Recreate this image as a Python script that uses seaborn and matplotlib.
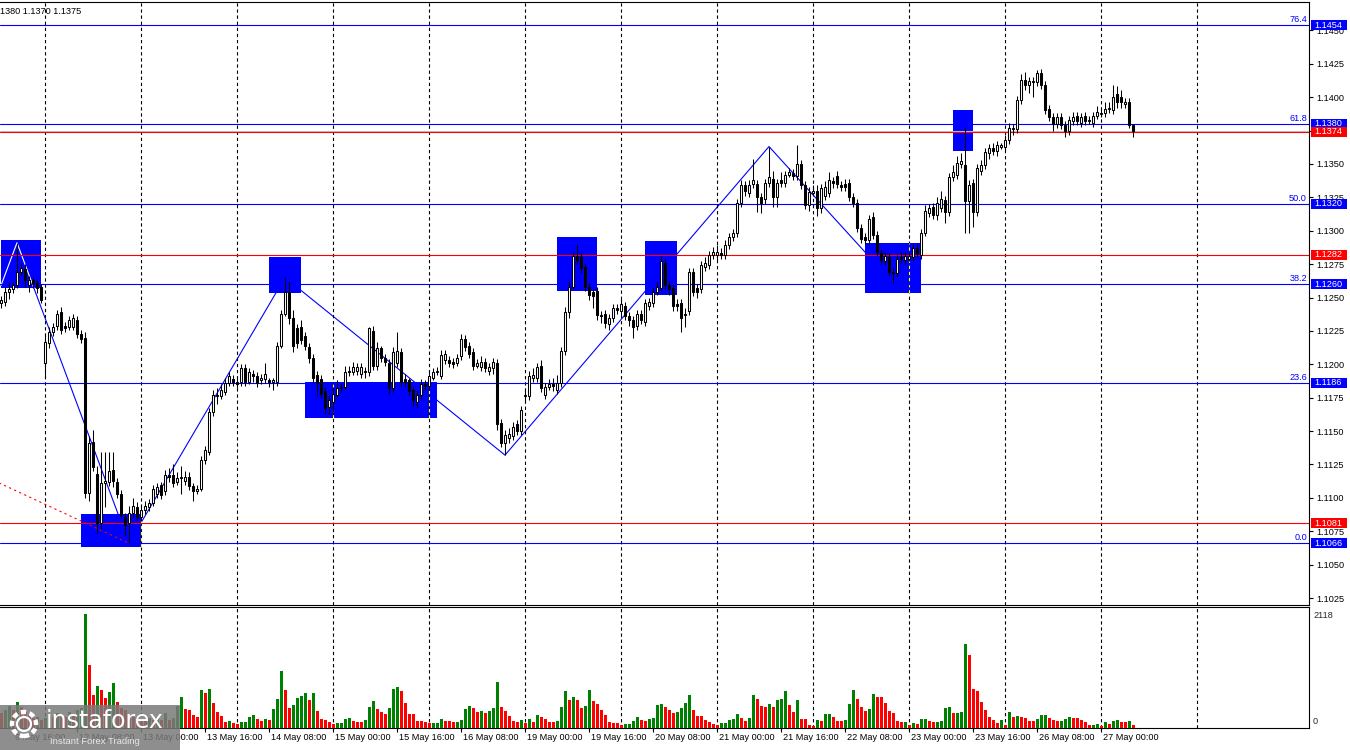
import numpy as np
import pandas as pd
import matplotlib
matplotlib.use("Agg")
import matplotlib.pyplot as plt
import seaborn as sns
from matplotlib.patches import Rectangle, Circle
from matplotlib.transforms import blended_transform_factory as blend, IdentityTransform

sns.set_theme(style="white")
plt.rcParams['font.family'] = ['Liberation Sans', 'DejaVu Sans']
plt.rcParams['axes.linewidth'] = 0.8

# ---------------- data (EURUSD H1, 9 May 13:00 .. 27 May 08:00) ----------------
open_ = [
    1.1246, 1.1247, 1.1254, 1.1256, 1.1259, 1.1269, 1.1271, 1.1259, 1.1263, 1.1261, 1.1258, 1.1201,
    1.1216, 1.1224, 1.1229, 1.1239, 1.1229, 1.1228, 1.1228, 1.1233, 1.1223, 1.1220, 1.1104, 1.1142,
    1.1118, 1.1081, 1.1111, 1.1112, 1.1121, 1.1112, 1.1103, 1.1086, 1.1081, 1.1089, 1.1093, 1.1086,
    1.1091, 1.1093, 1.1096, 1.1103, 1.1110, 1.1105, 1.1117, 1.1117, 1.1112, 1.1115, 1.1113, 1.1116,
    1.1109, 1.1105, 1.1107, 1.1128, 1.1134, 1.1164, 1.1176, 1.1176, 1.1179, 1.1186, 1.1189, 1.1187,
    1.1187, 1.1197, 1.1187, 1.1193, 1.1191, 1.1188, 1.1189, 1.1188, 1.1187, 1.1187, 1.1214, 1.1238,
    1.1254, 1.1235, 1.1227, 1.1228, 1.1221, 1.1213, 1.1205, 1.1192, 1.1189, 1.1180, 1.1168, 1.1172,
    1.1177, 1.1182, 1.1183, 1.1194, 1.1194, 1.1195, 1.1193, 1.1195, 1.1194, 1.1225, 1.1199, 1.1212,
    1.1205, 1.1201, 1.1182, 1.1201, 1.1209, 1.1189, 1.1188, 1.1181, 1.1172, 1.1177, 1.1185, 1.1184,
    1.1190, 1.1194, 1.1191, 1.1203, 1.1203, 1.1202, 1.1201, 1.1206, 1.1219, 1.1214, 1.1209, 1.1199,
    1.1198, 1.1202, 1.1195, 1.1197, 1.1201, 1.1156, 1.1141, 1.1145, 1.1146, 1.1155, 1.1150, 1.1176,
    1.1176, 1.1190, 1.1190, 1.1199, 1.1177, 1.1183, 1.1185, 1.1181, 1.1186, 1.1210, 1.1239, 1.1258,
    1.1281, 1.1280, 1.1273, 1.1258, 1.1254, 1.1255, 1.1237, 1.1238, 1.1230, 1.1235, 1.1242, 1.1240,
    1.1244, 1.1236, 1.1233, 1.1229, 1.1238, 1.1232, 1.1244, 1.1246, 1.1254, 1.1257, 1.1276, 1.1259,
    1.1257, 1.1245, 1.1246, 1.1237, 1.1240, 1.1269, 1.1257, 1.1256, 1.1273, 1.1274, 1.1282, 1.1282,
    1.1283, 1.1282, 1.1289, 1.1295, 1.1298, 1.1321, 1.1334, 1.1328, 1.1335, 1.1335, 1.1325, 1.1324,
    1.1336, 1.1339, 1.1325, 1.1338, 1.1336, 1.1342, 1.1343, 1.1341, 1.1350, 1.1334, 1.1319, 1.1328,
    1.1330, 1.1317, 1.1326, 1.1328, 1.1337, 1.1341, 1.1334, 1.1335, 1.1336, 1.1325, 1.1321, 1.1302,
    1.1295, 1.1293, 1.1310, 1.1297, 1.1283, 1.1277, 1.1280, 1.1269, 1.1268, 1.1280, 1.1278, 1.1279,
    1.1280, 1.1287, 1.1282, 1.1298, 1.1313, 1.1318, 1.1312, 1.1317, 1.1323, 1.1314, 1.1340, 1.1342,
    1.1350, 1.1349, 1.1322, 1.1336, 1.1314, 1.1345, 1.1349, 1.1358, 1.1362, 1.1360, 1.1363, 1.1363,
    1.1368, 1.1376, 1.1376, 1.1398, 1.1413, 1.1409, 1.1411, 1.1411, 1.1418, 1.1409, 1.1391, 1.1385,
    1.1380, 1.1385, 1.1379, 1.1375, 1.1382, 1.1386, 1.1381, 1.1386, 1.1382, 1.1381, 1.1386, 1.1387,
    1.1388, 1.1391, 1.1390, 1.1402, 1.1400, 1.1395, 1.1396, 1.1379,
]
high = [
    1.1251, 1.1258, 1.1261, 1.1262, 1.1291, 1.1276, 1.1275, 1.1266, 1.1265, 1.1263, 1.1260, 1.1223,
    1.1228, 1.1231, 1.1241, 1.1243, 1.1232, 1.1236, 1.1238, 1.1236, 1.1226, 1.1224, 1.1146, 1.1151,
    1.1124, 1.1134, 1.1134, 1.1134, 1.1134, 1.1115, 1.1106, 1.1089, 1.1094, 1.1100, 1.1097, 1.1095,
    1.1098, 1.1099, 1.1110, 1.1111, 1.1112, 1.1121, 1.1122, 1.1125, 1.1119, 1.1124, 1.1120, 1.1119,
    1.1111, 1.1110, 1.1131, 1.1139, 1.1167, 1.1181, 1.1182, 1.1185, 1.1190, 1.1194, 1.1192, 1.1190,
    1.1200, 1.1200, 1.1197, 1.1196, 1.1194, 1.1193, 1.1201, 1.1190, 1.1190, 1.1217, 1.1241, 1.1265,
    1.1262, 1.1241, 1.1230, 1.1233, 1.1224, 1.1216, 1.1208, 1.1195, 1.1192, 1.1183, 1.1177, 1.1183,
    1.1188, 1.1186, 1.1199, 1.1199, 1.1202, 1.1201, 1.1201, 1.1198, 1.1228, 1.1229, 1.1217, 1.1214,
    1.1208, 1.1204, 1.1213, 1.1224, 1.1212, 1.1193, 1.1190, 1.1184, 1.1180, 1.1189, 1.1188, 1.1194,
    1.1197, 1.1198, 1.1211, 1.1211, 1.1206, 1.1205, 1.1208, 1.1223, 1.1222, 1.1217, 1.1212, 1.1204,
    1.1206, 1.1205, 1.1201, 1.1205, 1.1204, 1.1159, 1.1151, 1.1152, 1.1157, 1.1158, 1.1169, 1.1181,
    1.1195, 1.1197, 1.1201, 1.1203, 1.1186, 1.1189, 1.1190, 1.1192, 1.1213, 1.1243, 1.1262, 1.1285,
    1.1289, 1.1283, 1.1276, 1.1261, 1.1256, 1.1258, 1.1240, 1.1241, 1.1238, 1.1245, 1.1245, 1.1249,
    1.1247, 1.1239, 1.1236, 1.1241, 1.1241, 1.1249, 1.1250, 1.1258, 1.1262, 1.1281, 1.1279, 1.1262,
    1.1260, 1.1249, 1.1249, 1.1242, 1.1272, 1.1272, 1.1260, 1.1277, 1.1280, 1.1285, 1.1288, 1.1289,
    1.1287, 1.1293, 1.1298, 1.1301, 1.1324, 1.1338, 1.1337, 1.1338, 1.1354, 1.1338, 1.1328, 1.1339,
    1.1363, 1.1345, 1.1339, 1.1344, 1.1345, 1.1347, 1.1346, 1.1364, 1.1353, 1.1337, 1.1333, 1.1334,
    1.1334, 1.1335, 1.1337, 1.1344, 1.1340, 1.1345, 1.1337, 1.1339, 1.1339, 1.1328, 1.1324, 1.1305,
    1.1298, 1.1312, 1.1314, 1.1300, 1.1286, 1.1284, 1.1283, 1.1272, 1.1282, 1.1284, 1.1284, 1.1284,
    1.1290, 1.1290, 1.1301, 1.1319, 1.1320, 1.1321, 1.1325, 1.1330, 1.1326, 1.1343, 1.1349, 1.1356,
    1.1358, 1.1377, 1.1338, 1.1339, 1.1350, 1.1353, 1.1362, 1.1365, 1.1366, 1.1367, 1.1366, 1.1372,
    1.1381, 1.1380, 1.1401, 1.1417, 1.1419, 1.1415, 1.1415, 1.1420, 1.1421, 1.1412, 1.1394, 1.1388,
    1.1388, 1.1388, 1.1382, 1.1386, 1.1389, 1.1389, 1.1388, 1.1389, 1.1386, 1.1389, 1.1393, 1.1392,
    1.1396, 1.1396, 1.1409, 1.1408, 1.1405, 1.1399, 1.1399, 1.1380,
]
low = [
    1.1242, 1.1244, 1.1249, 1.1253, 1.1257, 1.1266, 1.1258, 1.1254, 1.1257, 1.1253, 1.1246, 1.1190,
    1.1212, 1.1221, 1.1226, 1.1223, 1.1224, 1.1226, 1.1226, 1.1220, 1.1216, 1.1100, 1.1098, 1.1120,
    1.1073, 1.1077, 1.1093, 1.1109, 1.1108, 1.1100, 1.1085, 1.1072, 1.1066, 1.1086, 1.1083, 1.1083,
    1.1088, 1.1090, 1.1094, 1.1100, 1.1099, 1.1102, 1.1112, 1.1108, 1.1110, 1.1103, 1.1110, 1.1106,
    1.1098, 1.1103, 1.1105, 1.1125, 1.1132, 1.1161, 1.1170, 1.1174, 1.1177, 1.1184, 1.1184, 1.1182,
    1.1184, 1.1184, 1.1185, 1.1187, 1.1183, 1.1185, 1.1186, 1.1183, 1.1181, 1.1184, 1.1212, 1.1236,
    1.1230, 1.1209, 1.1212, 1.1215, 1.1211, 1.1201, 1.1187, 1.1176, 1.1175, 1.1163, 1.1163, 1.1164,
    1.1175, 1.1179, 1.1181, 1.1191, 1.1192, 1.1192, 1.1190, 1.1190, 1.1191, 1.1196, 1.1196, 1.1202,
    1.1199, 1.1178, 1.1179, 1.1198, 1.1184, 1.1183, 1.1176, 1.1169, 1.1168, 1.1174, 1.1181, 1.1181,
    1.1188, 1.1192, 1.1189, 1.1200, 1.1198, 1.1197, 1.1199, 1.1203, 1.1210, 1.1205, 1.1196, 1.1197,
    1.1195, 1.1194, 1.1192, 1.1193, 1.1151, 1.1138, 1.1132, 1.1141, 1.1143, 1.1147, 1.1147, 1.1172,
    1.1173, 1.1187, 1.1187, 1.1179, 1.1174, 1.1181, 1.1180, 1.1178, 1.1183, 1.1207, 1.1235, 1.1256,
    1.1275, 1.1268, 1.1255, 1.1248, 1.1242, 1.1233, 1.1231, 1.1227, 1.1226, 1.1232, 1.1238, 1.1237,
    1.1233, 1.1229, 1.1220, 1.1226, 1.1230, 1.1229, 1.1241, 1.1243, 1.1252, 1.1255, 1.1256, 1.1252,
    1.1240, 1.1240, 1.1224, 1.1228, 1.1237, 1.1251, 1.1250, 1.1253, 1.1270, 1.1271, 1.1279, 1.1278,
    1.1279, 1.1279, 1.1286, 1.1292, 1.1295, 1.1318, 1.1326, 1.1325, 1.1332, 1.1314, 1.1313, 1.1320,
    1.1333, 1.1318, 1.1318, 1.1333, 1.1333, 1.1340, 1.1338, 1.1338, 1.1331, 1.1316, 1.1315, 1.1326,
    1.1311, 1.1313, 1.1323, 1.1325, 1.1332, 1.1332, 1.1330, 1.1330, 1.1322, 1.1318, 1.1299, 1.1291,
    1.1290, 1.1290, 1.1294, 1.1281, 1.1275, 1.1274, 1.1266, 1.1261, 1.1265, 1.1276, 1.1275, 1.1277,
    1.1277, 1.1280, 1.1279, 1.1296, 1.1310, 1.1309, 1.1308, 1.1314, 1.1306, 1.1311, 1.1337, 1.1339,
    1.1347, 1.1298, 1.1298, 1.1303, 1.1311, 1.1342, 1.1346, 1.1354, 1.1357, 1.1356, 1.1361, 1.1360,
    1.1365, 1.1372, 1.1373, 1.1395, 1.1405, 1.1403, 1.1400, 1.1408, 1.1406, 1.1387, 1.1382, 1.1375,
    1.1377, 1.1376, 1.1370, 1.1372, 1.1379, 1.1379, 1.1378, 1.1379, 1.1380, 1.1378, 1.1384, 1.1385,
    1.1385, 1.1388, 1.1387, 1.1392, 1.1392, 1.1392, 1.1377, 1.1370,
]
close = [
    1.1248, 1.1254, 1.1256, 1.1259, 1.1269, 1.1272, 1.1263, 1.1263, 1.1261, 1.1257, 1.1248, 1.1217,
    1.1224, 1.1228, 1.1238, 1.1226, 1.1227, 1.1233, 1.1235, 1.1223, 1.1219, 1.1104, 1.1141, 1.1123,
    1.1081, 1.1111, 1.1113, 1.1120, 1.1113, 1.1103, 1.1087, 1.1080, 1.1089, 1.1094, 1.1086, 1.1091,
    1.1094, 1.1096, 1.1107, 1.1108, 1.1102, 1.1117, 1.1116, 1.1111, 1.1115, 1.1116, 1.1116, 1.1109,
    1.1105, 1.1107, 1.1128, 1.1136, 1.1164, 1.1177, 1.1177, 1.1181, 1.1186, 1.1191, 1.1187, 1.1185,
    1.1197, 1.1187, 1.1194, 1.1191, 1.1186, 1.1190, 1.1193, 1.1187, 1.1188, 1.1214, 1.1238, 1.1254,
    1.1235, 1.1214, 1.1216, 1.1218, 1.1214, 1.1205, 1.1190, 1.1186, 1.1178, 1.1167, 1.1173, 1.1178,
    1.1182, 1.1183, 1.1194, 1.1195, 1.1198, 1.1198, 1.1198, 1.1194, 1.1227, 1.1199, 1.1212, 1.1205,
    1.1202, 1.1182, 1.1209, 1.1210, 1.1187, 1.1187, 1.1180, 1.1173, 1.1177, 1.1185, 1.1184, 1.1191,
    1.1194, 1.1195, 1.1207, 1.1208, 1.1201, 1.1200, 1.1205, 1.1219, 1.1213, 1.1208, 1.1199, 1.1201,
    1.1202, 1.1197, 1.1198, 1.1202, 1.1155, 1.1141, 1.1147, 1.1148, 1.1153, 1.1150, 1.1166, 1.1177,
    1.1191, 1.1192, 1.1198, 1.1182, 1.1183, 1.1185, 1.1184, 1.1186, 1.1210, 1.1239, 1.1258, 1.1281,
    1.1278, 1.1272, 1.1258, 1.1252, 1.1251, 1.1237, 1.1236, 1.1231, 1.1235, 1.1242, 1.1241, 1.1245,
    1.1236, 1.1233, 1.1228, 1.1238, 1.1233, 1.1246, 1.1247, 1.1254, 1.1258, 1.1277, 1.1259, 1.1256,
    1.1244, 1.1244, 1.1235, 1.1238, 1.1269, 1.1254, 1.1254, 1.1274, 1.1276, 1.1282, 1.1284, 1.1284,
    1.1282, 1.1289, 1.1295, 1.1298, 1.1321, 1.1334, 1.1330, 1.1334, 1.1338, 1.1325, 1.1321, 1.1336,
    1.1340, 1.1325, 1.1336, 1.1336, 1.1342, 1.1344, 1.1341, 1.1350, 1.1334, 1.1319, 1.1329, 1.1330,
    1.1317, 1.1332, 1.1333, 1.1338, 1.1336, 1.1335, 1.1333, 1.1333, 1.1325, 1.1321, 1.1302, 1.1294,
    1.1293, 1.1309, 1.1297, 1.1284, 1.1278, 1.1281, 1.1269, 1.1268, 1.1279, 1.1279, 1.1281, 1.1281,
    1.1287, 1.1283, 1.1298, 1.1315, 1.1317, 1.1312, 1.1321, 1.1324, 1.1314, 1.1340, 1.1344, 1.1351,
    1.1352, 1.1322, 1.1334, 1.1314, 1.1347, 1.1349, 1.1359, 1.1362, 1.1360, 1.1364, 1.1364, 1.1368,
    1.1377, 1.1377, 1.1398, 1.1413, 1.1409, 1.1412, 1.1412, 1.1418, 1.1409, 1.1390, 1.1385, 1.1380,
    1.1385, 1.1379, 1.1375, 1.1383, 1.1385, 1.1382, 1.1385, 1.1382, 1.1383, 1.1386, 1.1389, 1.1388,
    1.1391, 1.1392, 1.1400, 1.1396, 1.1396, 1.1396, 1.1379, 1.1375,
]
volume = [
    267, 329, 404, 329, 484, 391, 329, 236, 174, 205, 143, 174,
    236, 205, 267, 236, 205, 298, 236, 329, 360, 2118, 1167, 609,
    776, 702, 559, 671, 838, 484, 373, 329, 236, 205, 174, 143,
    130, 174, 143, 174, 143, 267, 143, 174, 404, 578, 348, 329,
    236, 205, 702, 652, 714, 466, 298, 217, 112, 124, 81, 62,
    99, 112, 205, 236, 161, 130, 161, 143, 348, 534, 1056, 702,
    373, 422, 546, 590, 640, 515, 640, 311, 161, 143, 99, 68,
    81, 93, 161, 174, 124, 112, 106, 143, 379, 497, 348, 298,
    255, 360, 714, 751, 683, 466, 255, 249, 124, 118, 112, 81,
    87, 93, 161, 130, 124, 106, 112, 143, 348, 404, 360, 298,
    311, 267, 311, 360, 857, 379, 311, 217, 124, 106, 143, 81,
    161, 106, 236, 193, 161, 112, 106, 124, 391, 683, 515, 578,
    515, 373, 404, 702, 503, 441, 329, 236, 99, 93, 87, 50,
    68, 74, 124, 199, 143, 130, 155, 186, 422, 441, 391, 329,
    279, 286, 360, 466, 609, 329, 217, 211, 143, 99, 62, 43,
    81, 87, 143, 155, 255, 174, 124, 186, 609, 534, 404, 379,
    441, 391, 515, 528, 683, 422, 298, 515, 161, 155, 50, 37,
    143, 124, 255, 261, 205, 124, 118, 143, 441, 702, 534, 379,
    311, 342, 627, 578, 565, 466, 311, 279, 124, 99, 106, 50,
    93, 68, 161, 168, 124, 106, 112, 118, 360, 379, 267, 273,
    292, 1559, 1354, 714, 683, 478, 329, 193, 143, 81, 143, 50,
    292, 193, 217, 199, 186, 124, 118, 161, 236, 242, 180, 143,
    124, 130, 161, 193, 180, 174, 143, 99, 50, 56, 68, 31,
    99, 68, 124, 143, 106, 99, 124, 50,
]

fib_prices = [1.1454, 1.1380, 1.1320, 1.1260, 1.1186, 1.1066]
fib_names = ["76.4", "61.8", "50.0", "38.2", "23.6", "0.0"]
red_prices = [1.1374, 1.1282, 1.1081]

zone_start = [0, 20, 67, 76, 139, 161, 216, 238]
zone_end = [10, 35, 75, 109, 149, 169, 230, 243]
zone_low = [1.1257, 1.1063, 1.1253, 1.1160, 1.1255, 1.1252, 1.1253, 1.1360]
zone_high = [1.1293, 1.1088, 1.1280, 1.1187, 1.1295, 1.1292, 1.1291, 1.1390]

zz_bars = [0, 4, 32, 71, 126, 192, 223]
zz_prices = [1.1259, 1.1291, 1.1066, 1.1265, 1.1132, 1.1363, 1.1261]

trend_bars = [-14, 32]
trend_prices = [1.1130, 1.1066]

price_ticks = [1.1025, 1.1050, 1.1075, 1.1100, 1.1125, 1.1150, 1.1175, 1.1200, 1.1225,
               1.1250, 1.1275, 1.1300, 1.1325, 1.1350, 1.1375, 1.1400, 1.1425, 1.1450]
vol_ticks = [0, 2118]
header = "1380 1.1370 1.1375"

sessions = [("2025-05-09 13:00", 11), ("2025-05-12 00:00", 120),
            ("2025-05-19 00:00", 120), ("2025-05-26 00:00", 72)]

# ---------------- preparation ----------------
n = len(close)
assert len(open_) == n and len(high) == n and len(low) == n and len(volume) == n, \
    (len(open_), len(high), len(low), len(close), len(volume))
times = pd.DatetimeIndex(np.concatenate(
    [pd.date_range(s, periods=p, freq="h").values for s, p in sessions]))
idx = np.arange(n)
o = np.array(open_); h = np.array(high); l = np.array(low); c = np.array(close)

W, H = 1350, 750
PX = 1.0 / 13358.0          # price per pixel
X_LIM = (-0.25, 327.0)
Y_LIM = (1.1454 + 23 * PX, 1.1454 - 580 * PX)
BLUE, RED, GREEN = "#0000FF", "#FF0000", "#008000"
FS = 6.6

fig = plt.figure(figsize=(W / 100, H / 100), dpi=100)
fig.patch.set_facecolor("white")
ax = fig.add_axes([0, 1 - 605 / H, 1309 / W, 603 / H])
axv = fig.add_axes([0, 1 - 728 / H, 1309 / W, 121 / H])
for a in (ax, axv):
    a.set_facecolor("white")
    a.autoscale(False)

ax.set_xlim(*X_LIM)
ax.set_ylim(Y_LIM[1], Y_LIM[0])

# zones
zone_patches = []
for s, e, lo, hi in zip(zone_start, zone_end, zone_low, zone_high):
    p = Rectangle((s, lo), e - s, hi - lo, facecolor=BLUE, edgecolor="none", zorder=1.5)
    ax.add_patch(p)
    zone_patches.append(p)

# zigzag (hidden under the zones, white inside the first one)
ax.plot(zz_bars, zz_prices, color=BLUE, lw=0.8, zorder=1.2)
wl, = ax.plot(zz_bars, zz_prices, color="white", lw=0.8, zorder=1.6)
wl.set_clip_path(zone_patches[0])

# day grid
grid_idx = np.where(times.hour == 0)[0]
for a, lim in ((ax, (Y_LIM[1], Y_LIM[0])), (axv, (-5, 2249))):
    for g in grid_idx:
        a.plot([g, g], lim, color="black", lw=0.8, ls=(0, (3, 2.5)), zorder=1.8)
for g in grid_idx:
    for s, e, lo, hi in zip(zone_start, zone_end, zone_low, zone_high):
        if s <= g <= e:
            ax.plot([g, g], [lo, hi], color="#FFFF00", lw=0.8, ls=(0, (3, 2.5)), zorder=1.9)

# horizontal levels
for p in fib_prices:
    ax.axhline(p, color=BLUE, lw=0.8, zorder=2)
for p in red_prices:
    ax.axhline(p, color=RED, lw=0.8, zorder=2)
ax.axhline(c[-1], color="#C0C0C0", lw=0.8, zorder=1.95)

# red dotted trend line
ax.plot(trend_bars, trend_prices, color=RED, lw=0.8, ls=(0, (2, 3)), zorder=3)

# candles
ax.vlines(idx, l, h, colors="black", linewidth=0.75, zorder=4)
body_bottom = np.minimum(o, c)
body_h = np.maximum(np.abs(c - o), 0.00002)
ax.bar(idx, body_h, bottom=body_bottom, width=0.5,
       color=np.where(c >= o, "white", "black"), edgecolor="black",
       linewidth=0.75, zorder=5)

# fib labels
tr_fib = blend(ax.transAxes, ax.transData)
for p, name in zip(fib_prices, fib_names):
    ax.text(1 - 2 / 1309, p + 1.2 * PX, name, transform=tr_fib, ha="right", va="bottom",
            color=BLUE, fontsize=FS, zorder=6)

# price axis
ax.yaxis.tick_right()
ax.set_yticks(price_ticks)
ax.set_yticklabels([f"{v:.4f}" for v in price_ticks])
ax.tick_params(axis="y", which="both", direction="out", length=3, width=0.8, pad=2,
               labelsize=FS, colors="black", right=True, left=False)
ax.set_xticks([])
ax.spines["left"].set_visible(False)
for sp in ("top", "right", "bottom"):
    ax.spines[sp].set_color("black")
    ax.spines[sp].set_linewidth(0.8)

# level boxes on the axis
tr_box = blend(fig.transFigure, ax.transData)
half = 5 * PX
levels = [(p, BLUE) for p in fib_prices] + [(p, RED) for p in red_prices]
for p, col in levels:
    ax.add_patch(Rectangle((1311 / W, p - half), 36 / W, 2 * half, transform=tr_box,
                           facecolor=col, edgecolor="none", clip_on=False, zorder=10))
    ax.text(1314 / W, p, f"{p:.4f}", transform=tr_box, color="white", fontsize=FS,
            ha="left", va="center", zorder=11, clip_on=False)

# ---------------- volume panel ----------------
vol_dir = ["up" if i > 0 and volume[i] > volume[i - 1] else "down" for i in range(n)]
dfv = pd.DataFrame({"bar": idx, "volume": volume, "dir": vol_dir})
sns.barplot(data=dfv, x="bar", y="volume", hue="dir", palette={"up": GREEN, "down": RED},
            native_scale=True, width=0.75, dodge=False, legend=False, errorbar=None,
            saturation=1, linewidth=0, ax=axv, zorder=3)
axv.set_xlim(*X_LIM)
axv.set_ylim(-5, 2249)
axv.set_xlabel("")
axv.set_ylabel("")
axv.set_yticks([])
axv.spines["left"].set_visible(False)
for sp in ("top", "right", "bottom"):
    axv.spines[sp].set_color("black")
    axv.spines[sp].set_linewidth(0.8)

label_idx = list(range(3, n, 16))
axv.set_xticks(label_idx)
axv.set_xticklabels([""] * len(label_idx))
axv.tick_params(axis="x", bottom=True, direction="out", length=3, width=0.8, colors="black")
tr_lab = blend(axv.transData, fig.transFigure)
for i in label_idx:
    t = times[i]
    axv.text(i + 0.6, 1 - 738 / H, f"{t.day} {t:%b} {t:%H:%M}", transform=tr_lab,
             ha="left", va="center", fontsize=FS, color="black", clip_on=False)

fig.text(1313 / W, 1 - 615 / H, str(vol_ticks[1]), fontsize=FS, ha="left", va="center")
fig.text(1313 / W, 1 - 722 / H, str(vol_ticks[0]), fontsize=FS, ha="left", va="center")

# header text
fig.text(0.5 / W, 1 - 11 / H, header, fontsize=FS, ha="left", va="center", color="black")

# watermark logo
fig.add_artist(Rectangle((0, 0), 180 / W, 45 / H, transform=fig.transFigure,
                         facecolor="#7A7A7A", alpha=0.85, edgecolor="none", zorder=20))
fig.add_artist(Circle((24, H - 724), 12, transform=IdentityTransform(), facecolor="none",
                      edgecolor="white", lw=3.2, ls=(0, (1.2, 0.8)), zorder=21))
fig.add_artist(Circle((24, H - 724), 7, transform=IdentityTransform(), facecolor="none",
                      edgecolor="white", lw=1.6, zorder=21))
fig.text(46 / W, 1 - 721 / H, "instaforex", color="white", fontsize=17, ha="left",
         va="center", zorder=22, family=["DejaVu Sans"])
fig.text(50 / W, 1 - 741 / H, "Instant Forex Trading", color="#E6E6E6", fontsize=6.8,
         ha="left", va="center", zorder=22)

fig.savefig("out.png", dpi=100, facecolor="white")
